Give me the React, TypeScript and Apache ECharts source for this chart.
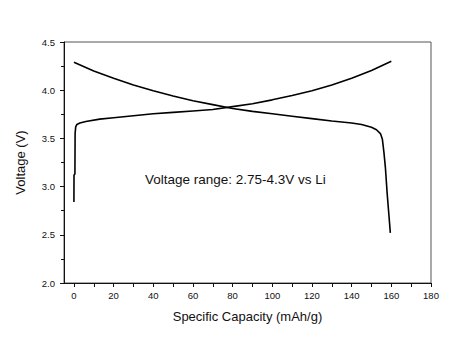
import React, { useEffect, useRef } from "react";
import * as echarts from "echarts";

const xLabelValues = [0, 20, 40, 60, 80, 100, 120, 140, 160, 180];
const xTickValues = [0, 10, 20, 30, 40, 50, 60, 70, 80, 90, 100, 110, 120, 130, 140, 150, 160, 170, 180];

// Charge curve: [capacity mAh/g, voltage V]
const chargeCurve: [number, number][] = [
  [0, 2.84], [0.05, 3.12], [0.5, 3.13], [0.6, 3.55], [0.9, 3.62], [1.5, 3.645], [3, 3.66],
  [6, 3.675], [13, 3.7], [20, 3.715], [30, 3.735], [40, 3.755], [50, 3.77], [60, 3.785],
  [70, 3.8], [80, 3.83], [90, 3.86], [100, 3.9], [110, 3.945], [120, 3.995], [130, 4.055],
  [140, 4.125], [150, 4.205], [160, 4.3],
];

// Discharge curve
const dischargeCurve: [number, number][] = [
  [0, 4.29], [10, 4.2], [20, 4.125], [30, 4.055], [40, 3.995], [50, 3.94], [60, 3.89],
  [70, 3.85], [80, 3.81], [90, 3.78], [100, 3.755], [110, 3.73], [120, 3.705], [130, 3.68],
  [140, 3.66], [145, 3.645], [150, 3.615], [152.5, 3.59], [154.5, 3.55], [155.5, 3.49],
  [156.3, 3.35], [157, 3.2], [157.9, 2.93], [158.8, 2.7], [159.5, 2.52],
];

const annotation = "Voltage range: 2.75-4.3V vs Li";

export default function App() {
  const ref = useRef<HTMLDivElement>(null);
  useEffect(() => {
    if (!ref.current) return;
    const chart = echarts.init(ref.current, null, { renderer: "svg" });
    const font = "'Liberation Sans', Arial, sans-serif";
    chart.setOption({
      animation: false,
      backgroundColor: "#ffffff",
      textStyle: { fontFamily: font },
      grid: {
        left: 64,
        top: 42,
        right: 24,
        bottom: 68,
        show: true,
        borderColor: "#555",
        borderWidth: 1,
        backgroundColor: "transparent",
      },
      xAxis: {
        type: "value",
        min: -5,
        max: 180,
        name: "Specific Capacity (mAh/g)",
        nameLocation: "middle",
        nameGap: 27,
        nameTextStyle: { fontFamily: font, fontSize: 13, color: "#111", verticalAlign: "top" },
        axisLine: { show: true, onZero: false, lineStyle: { color: "#111", width: 1 } },
        axisTick: { show: true, customValues: xTickValues, length: 4, lineStyle: { color: "#111" } },
        axisLabel: {
          customValues: xLabelValues,
          fontFamily: font,
          fontSize: 9.5,
          color: "#111",
          margin: 7,
        },
        splitLine: { show: false },
      },
      yAxis: {
        type: "value",
        min: 2,
        max: 4.5,
        interval: 0.5,
        name: "Voltage (V)",
        nameLocation: "middle",
        nameGap: 37,
        nameTextStyle: { fontFamily: font, fontSize: 13, color: "#111" },
        axisLine: { show: true, onZero: false, lineStyle: { color: "#111", width: 1 } },
        axisTick: { show: true, length: 4, lineStyle: { color: "#111" } },
        minorTick: { show: true, splitNumber: 2, length: 3, lineStyle: { color: "#111" } },
        axisLabel: {
          fontFamily: font,
          fontSize: 9.5,
          color: "#111",
          margin: 9,
          formatter: (v: number) => v.toFixed(1),
        },
        splitLine: { show: false },
      },
      graphic: [
        {
          type: "text",
          left: 145,
          top: 172,
          style: { text: annotation, fontFamily: font, fontSize: 13.5, fill: "#111" },
        },
      ],
      series: [
        {
          type: "line",
          name: "Charge",
          data: chargeCurve,
          showSymbol: false,
          lineStyle: { color: "#000", width: 1.6 },
        },
        {
          type: "line",
          name: "Discharge",
          data: dischargeCurve,
          showSymbol: false,
          lineStyle: { color: "#000", width: 1.6 },
        },
      ],
    });
    return () => chart.dispose();
  }, []);
  return <div ref={ref} style={{ width: 455, height: 351, margin: -8 }} />;
}
